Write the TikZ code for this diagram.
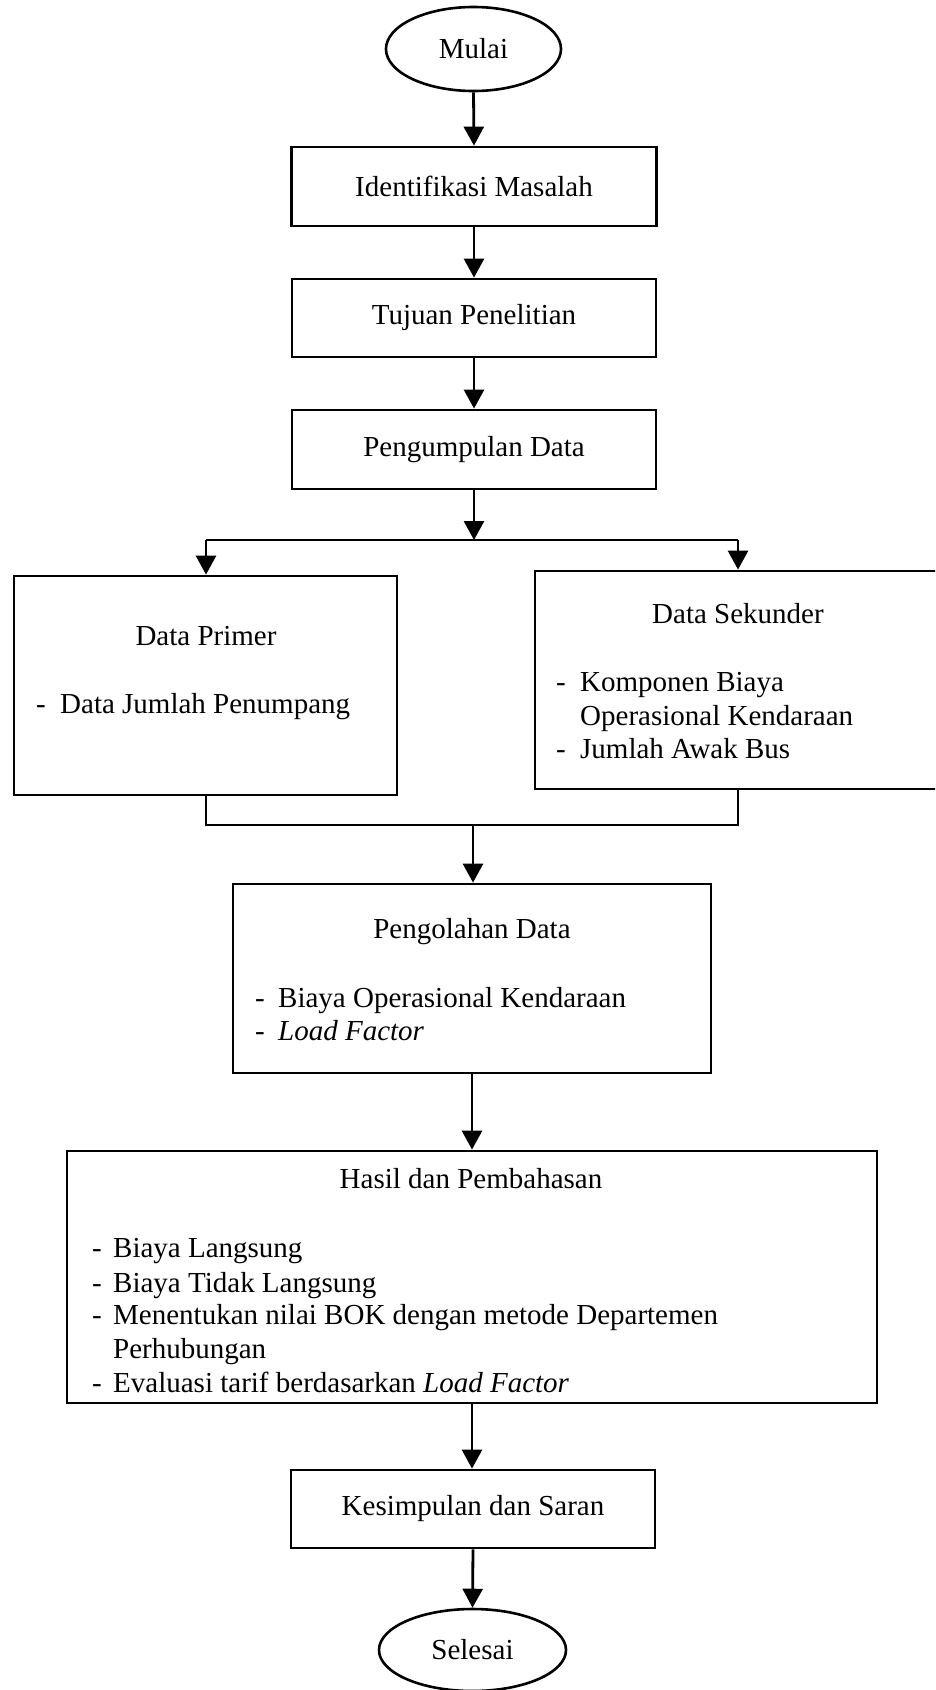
\documentclass[tikz,border=0pt]{standalone}
\usepackage{fontspec}
\setmainfont{Liberation Serif}
\usetikzlibrary{arrows.meta,shapes.geometric}
\begin{document}
\begin{tikzpicture}[x=1pt,y=-1pt,
  box/.style={draw, line width=2.8pt, rectangle, inner sep=0pt},
  term/.style={draw, ellipse, line width=2.6pt, inner sep=0pt},
  arr/.style={line width=2.8pt, -{Triangle[length=19pt,width=20pt]}},
  ln/.style={line width=2.8pt},
  txt/.style={inner sep=0pt, anchor=base west},
  ttl/.style={inner sep=0pt, anchor=base},
  font=\fontsize{29}{34}\selectfont]
\useasboundingbox (0,0) rectangle (935,1690);
\clip (0,0) rectangle (935,1690);
\fill[white] (0,0) rectangle (935,1690);

\node[term, minimum width=175pt, minimum height=84pt] (mulai) at (473.5,49) {Mulai};
\node[box, minimum width=365pt, minimum height=79pt] (ident) at (474,186.5) {Identifikasi Masalah};
\node[box, minimum width=364pt, minimum height=78pt] (tujuan) at (474,318) {Tujuan Penelitian};
\node[box, minimum width=364pt, minimum height=79pt] (kumpul) at (474,449.5) {Pengumpulan Data};

\node[box, minimum width=383pt, minimum height=219pt] (primer) at (205.5,685.5) {};
\node[box, minimum width=415pt, minimum height=218pt] (sekunder) at (742.5,680) {};
\node[box, minimum width=478pt, minimum height=189pt] (olah) at (472,978.5) {};
\node[box, minimum width=810pt, minimum height=252pt] (hasil) at (472,1277) {};
\node[box, minimum width=364pt, minimum height=78pt] (simpul) at (473,1509) {Kesimpulan dan Saran};
\node[term, minimum width=187pt, minimum height=82pt] (selesai) at (472.5,1650) {Selesai};

% texts
\node[ttl] (tprimer) at (206,645) {Data Primer};
\node[txt] (dp1) at (36,713) {-};
\node[txt] (tp1) at (60,713) {Data Jumlah Penumpang};

\node[ttl] (tsek) at (738,623) {Data Sekunder};
\node[txt] (ds1) at (556,691) {-};
\node[txt] (ts1) at (580,691) {Komponen Biaya};
\node[txt] (ts2) at (580,725) {Operasional Kendaraan};
\node[txt] (ds3) at (556,758) {-};
\node[txt] (ts3) at (580,758) {Jumlah Awak Bus};

\node[ttl] (tolah) at (472,938) {Pengolahan Data};
\node[txt] (do1) at (255,1007) {-};
\node[txt] (to1) at (278,1007) {Biaya Operasional Kendaraan};
\node[txt] (do2) at (255,1040) {-};
\node[txt] (to2) at (278,1040) {\textit{Load Factor}};

\node[ttl] (thasil) at (471,1188) {Hasil dan Pembahasan};
\node[txt] (dh1) at (92,1257) {-};
\node[txt] (th1) at (113,1257) {Biaya Langsung};
\node[txt] (dh2) at (92,1292) {-};
\node[txt] (th2) at (113,1292) {Biaya Tidak Langsung};
\node[txt] (dh3) at (92,1324) {-};
\node[txt] (th3) at (113,1324) {Menentukan nilai BOK dengan metode Departemen};
\node[txt] (th4) at (113,1358) {Perhubungan};
\node[txt] (dh5) at (92,1392) {-};
\node[txt] (th5) at (113,1392) {Evaluasi tarif berdasarkan \textit{Load Factor}};

% connectors
\coordinate (split) at (474,540);
\coordinate (splitL) at (206,540);
\coordinate (splitR) at (738,540);
\coordinate (mergeL) at (206,825);
\coordinate (mergeR) at (738,825);
\coordinate (merge) at (473,825);

\draw[arr] (mulai.south) -- (ident.north);
\draw[arr] (ident.south) -- (tujuan.north);
\draw[arr] (tujuan.south) -- (kumpul.north);
\draw[arr] (kumpul.south) -- (split);
\draw[ln] (splitL) -- (splitR);
\draw[arr] (splitL) -- (splitL |- primer.north);
\draw[arr] (splitR) -- (splitR |- sekunder.north);
\draw[ln] (mergeL |- primer.south) -- (mergeL) -- (mergeR) -- (mergeR |- sekunder.south);
\draw[arr] (merge) -- (merge |- olah.north);
\draw[arr] (olah.south) -- (olah.south |- hasil.north);
\draw[arr] (hasil.south) -- (hasil.south |- simpul.north);
\draw[arr] (simpul.south) -- (selesai.north);
\end{tikzpicture}
\end{document}
